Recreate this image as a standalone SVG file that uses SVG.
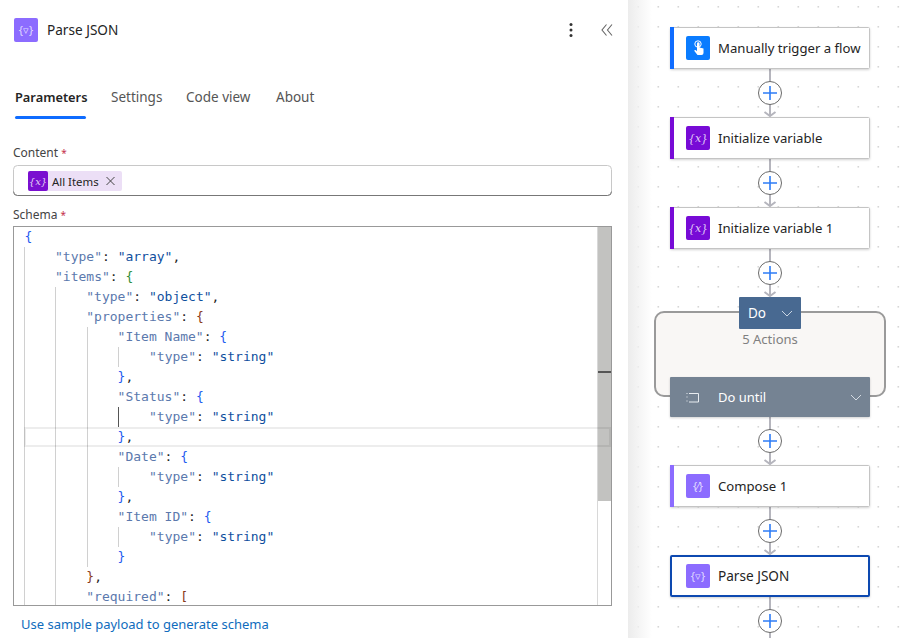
<svg xmlns="http://www.w3.org/2000/svg" width="907" height="638" viewBox="0 0 907 638">
<style>
text{font-family:"Noto Sans","Open Sans","Liberation Sans",sans-serif;font-size:14px;fill:#242424}
.c text,text.c{font-family:"DejaVu Sans Mono","Liberation Mono",monospace;font-size:13px;white-space:pre}
.k{fill:#5b79ad}.s{fill:#0f4f9e}.p{fill:#242424}.b{fill:#1f5cf0}.g{fill:#2f8f3a}.r{fill:#8a3a1a}
.guide{stroke:#d0d0d0;stroke-width:1;fill:none}
.card{fill:#fff;stroke:#c4c4c4;stroke-width:1}
.wire{stroke:#b5b5bd;stroke-width:2;fill:none}
.plus circle{fill:#fff;stroke:#6a6a6a;stroke-width:1}
.plus path{stroke:#2e7cf6;stroke-width:1.6;fill:none}
.gl{fill:#fff;fill-opacity:.8;font-family:"DejaVu Serif",serif;font-size:11px;font-style:italic}
.nl{font-size:13.150px}
</style>
<defs>
<pattern id="dots" x="0" y="0" width="20" height="20" patternUnits="userSpaceOnUse"><rect x="17.500" y="6" width="1.600" height="1.600" fill="#d6d6d6"/></pattern>
<linearGradient id="sh" x1="0" x2="1" y1="0" y2="0"><stop offset="0" stop-color="#e6e6e6"/><stop offset="1" stop-color="#ffffff"/></linearGradient>
<g id="pl" class="plus"><circle r="11.500"/><path d="M-7 0H7M0-7V7"/></g>
<path id="ah" d="M-5.500 -4L0 0L5.500 -4" fill="none" stroke="#b5b5bd" stroke-width="2"/>
<filter id="ds" x="-5%" y="-10%" width="110%" height="130%"><feDropShadow dx="0" dy="1" stdDeviation="1.200" flood-color="#000" flood-opacity=".18"/></filter>
</defs>
<rect width="907" height="638" fill="#fff"/>
<rect x="628" y="0" width="279" height="638" fill="url(#dots)"/>
<rect x="628" y="0" width="24" height="638" fill="url(#sh)" opacity=".75"/>

<g id="panel-header">
<rect x="14" y="18" width="24" height="24" rx="2" fill="#8c6cff"/>
<text x="26" y="33.500" text-anchor="middle" style="font-size:11px;fill:#fff;fill-opacity:.75">{▿}</text>
<text x="47" y="35" style="font-size:13.600px">Parse JSON</text>
<g fill="#333"><circle cx="571" cy="24.500" r="1.500"/><circle cx="571" cy="30" r="1.500"/><circle cx="571" cy="35.500" r="1.500"/></g>
<path d="M606.500 24.500L602 30L606.500 35.500M612 24.500L607.500 30L612 35.500" fill="none" stroke="#666" stroke-width="1.100"/>
</g>
<g id="tabs">
<text x="15" y="102" style="font-weight:600;font-size:12.800px">Parameters</text>
<rect x="15" y="116" width="71" height="3" rx="1.500" fill="#0f6cff"/>
<text x="111" y="102" style="font-size:13.500px;fill:#555">Settings</text>
<text x="186" y="102" style="font-size:13.500px;fill:#555">Code view</text>
<text x="276" y="102" style="font-size:13.500px;fill:#555">About</text>
</g>
<g id="content-field">
<text x="13" y="157" style="font-size:12px;fill:#444">Content <tspan fill="#c4314b" style="font-size:10px">*</tspan></text>
<rect x="13.500" y="165.500" width="598" height="30" rx="4" fill="#fff" stroke="#c8c8c8"/>
<path d="M13.500 191.500a4 4 0 0 0 4 4h590a4 4 0 0 0 4-4" fill="none" stroke="#777"/>
<rect x="28" y="171" width="94" height="20" rx="2" fill="#ecdff6"/>
<rect x="28" y="171" width="20" height="20" rx="2" fill="#7a0fd0"/>
<text x="38" y="185" text-anchor="middle" class="gl" style="font-size:10px">{x}</text>
<text x="52" y="186" style="font-size:11.400px">All Items</text>
<path d="M106.500 177L114.500 185M114.500 177L106.500 185" stroke="#444" stroke-width="1" fill="none"/>
</g>
<text x="13" y="219" style="font-size:12px;fill:#444">Schema <tspan fill="#c4314b" style="font-size:10px">*</tspan></text>

<g id="schema-editor">
<rect x="13.500" y="226.500" width="598" height="379" fill="#fff"/>
<path class="guide" d="M24.500 247V605M55.500 287V605M87.500 327V567M118.500 347V367M118.500 467V487M118.500 527V547"/>
<path d="M118.500 407V427" stroke="#555" stroke-width="1"/>
<rect x="597" y="227" width="14" height="274" fill="#c2c2c0"/>
<path d="M597.500 227V605" stroke="#d8d8d8"/>
<rect x="598" y="371" width="13" height="2" fill="#555"/>
<rect x="25" y="428" width="585" height="18" fill="none" stroke="#000" stroke-opacity=".07" stroke-width="2"/>
<rect x="13.500" y="226.500" width="598" height="379" fill="none" stroke="#999"/>
<g class="c">
<text x="24.500" y="241" class="b">{</text>
<text x="55" y="261"><tspan class="k">"type"</tspan><tspan class="p">: </tspan><tspan class="s">"array"</tspan><tspan class="p">,</tspan></text>
<text x="55" y="281"><tspan class="k">"items"</tspan><tspan class="p">: </tspan><tspan class="g">{</tspan></text>
<text x="86.300" y="301"><tspan class="k">"type"</tspan><tspan class="p">: </tspan><tspan class="s">"object"</tspan><tspan class="p">,</tspan></text>
<text x="86.300" y="321"><tspan class="k">"properties"</tspan><tspan class="p">: </tspan><tspan class="r">{</tspan></text>
<text x="117.600" y="341"><tspan class="k">"Item Name"</tspan><tspan class="p">: </tspan><tspan class="b">{</tspan></text>
<text x="149" y="361"><tspan class="k">"type"</tspan><tspan class="p">: </tspan><tspan class="s">"string"</tspan></text>
<text x="117.600" y="381"><tspan class="b">}</tspan><tspan class="p">,</tspan></text>
<text x="117.600" y="401"><tspan class="k">"Status"</tspan><tspan class="p">: </tspan><tspan class="b">{</tspan></text>
<text x="149" y="421"><tspan class="k">"type"</tspan><tspan class="p">: </tspan><tspan class="s">"string"</tspan></text>
<text x="117.600" y="441"><tspan class="b">}</tspan><tspan class="p">,</tspan></text>
<text x="117.600" y="461"><tspan class="k">"Date"</tspan><tspan class="p">: </tspan><tspan class="b">{</tspan></text>
<text x="149" y="481"><tspan class="k">"type"</tspan><tspan class="p">: </tspan><tspan class="s">"string"</tspan></text>
<text x="117.600" y="501"><tspan class="b">}</tspan><tspan class="p">,</tspan></text>
<text x="117.600" y="521"><tspan class="k">"Item ID"</tspan><tspan class="p">: </tspan><tspan class="b">{</tspan></text>
<text x="149" y="541"><tspan class="k">"type"</tspan><tspan class="p">: </tspan><tspan class="s">"string"</tspan></text>
<text x="117.600" y="561"><tspan class="b">}</tspan></text>
<text x="86.300" y="581"><tspan class="r">}</tspan><tspan class="p">,</tspan></text>
<text x="86.300" y="601"><tspan class="k">"required"</tspan><tspan class="p">: </tspan><tspan class="r">[</tspan></text>
</g>
</g>
<text id="sample-link" x="21" y="629" style="font-size:13px;fill:#0f6cbd">Use sample payload to generate schema</text>

<g id="group-do">
<rect x="655" y="312" width="230" height="84" rx="9" fill="#f9f7f5" stroke="#9a9a9a" stroke-width="2"/>
<text x="770" y="344" text-anchor="middle" style="font-size:13px;fill:#808080">5 Actions</text>
<rect x="739" y="297" width="62" height="32" rx="1" fill="#486991"/>
<text x="748" y="318" style="font-size:13.500px;fill:#fff">Do</text>
<path d="M782 311L787 316L792 311" fill="none" stroke="#c8d4e2" stroke-width="1"/>
</g>

<g id="connectors">
<path class="wire" d="M770 69V116M770 159V206M770 249V296M770 417V464M770 507V554M770 597V638"/>
<use href="#ah" x="770" y="116"/><use href="#ah" x="770" y="206"/><use href="#ah" x="770" y="296"/><use href="#ah" x="770" y="464"/><use href="#ah" x="770" y="554"/>
<use href="#pl" x="770" y="93"/><use href="#pl" x="770" y="183"/><use href="#pl" x="770" y="273"/><use href="#pl" x="770" y="441"/><use href="#pl" x="770" y="531"/><use href="#pl" x="770" y="621"/>
</g>

<g id="node-trigger">
<rect class="card" x="670.500" y="27.500" width="199" height="41" rx="1" filter="url(#ds)"/>
<rect x="670" y="27" width="4" height="42" fill="#0f6cff"/>
<rect x="686" y="36" width="24" height="24" rx="2" fill="#0a7cff"/>
<circle cx="698" cy="44" r="3.200" fill="none" stroke="#fff" stroke-width="1"/>
<path d="M697 43.500a1.300 1.300 0 0 1 2.600 0v4l3.900 1v4.500a2 2 0 0 1-2 2h-4l-3.500-4.500 1.700-.5 1.300 1.300z" fill="#fff"/>
<text x="718" y="53" class="nl">Manually trigger a flow</text>
</g>
<g id="node-init">
<rect class="card" x="670.500" y="117.500" width="199" height="41" rx="1" filter="url(#ds)"/>
<rect x="670" y="117" width="4" height="42" fill="#770bd6"/>
<rect x="686" y="126" width="24" height="24" rx="2" fill="#770bd6"/>
<text x="698" y="142" text-anchor="middle" class="gl">{x}</text>
<text x="718" y="143" class="nl">Initialize variable</text>
</g>
<g id="node-init1">
<rect class="card" x="670.500" y="207.500" width="199" height="41" rx="1" filter="url(#ds)"/>
<rect x="670" y="207" width="4" height="42" fill="#770bd6"/>
<rect x="686" y="216" width="24" height="24" rx="2" fill="#770bd6"/>
<text x="698" y="232" text-anchor="middle" class="gl">{x}</text>
<text x="718" y="233" class="nl">Initialize variable 1</text>
</g>
<g id="node-dountil">
<rect x="670" y="377" width="200" height="40" rx="1" fill="#758393" filter="url(#ds)"/>
<path d="M689 393.500H698.500V402H689M686.500 393.500h1M686.500 397h1M686.500 401h1" fill="none" stroke="#e8ecf0" stroke-width="1"/>
<text x="718" y="402" style="font-size:13px;fill:#fff">Do until</text>
<path d="M851 395L856 400L861 395" fill="none" stroke="#d5dbe2" stroke-width="1"/>
</g>
<g id="node-compose">
<rect class="card" x="670.500" y="465.500" width="199" height="41" rx="1" filter="url(#ds)"/>
<rect x="670" y="465" width="4" height="42" fill="#8c6cff"/>
<rect x="686" y="474" width="24" height="24" rx="2" fill="#8c6cff"/>
<text x="698" y="490" text-anchor="middle" style="font-size:11px;fill:#fff;fill-opacity:.75">{⁄}</text>
<text x="718" y="491" class="nl">Compose 1</text>
</g>
<g id="node-parse">
<rect x="671" y="556" width="198" height="40" rx="1" fill="#fff" stroke="#0a4ab0" stroke-width="2" filter="url(#ds)"/>
<rect x="686" y="564" width="24" height="24" rx="2" fill="#8c6cff"/>
<text x="698" y="580" text-anchor="middle" style="font-size:11px;fill:#fff;fill-opacity:.75">{▿}</text>
<text x="718" y="581" style="font-size:13.600px">Parse JSON</text>
</g>
</svg>
